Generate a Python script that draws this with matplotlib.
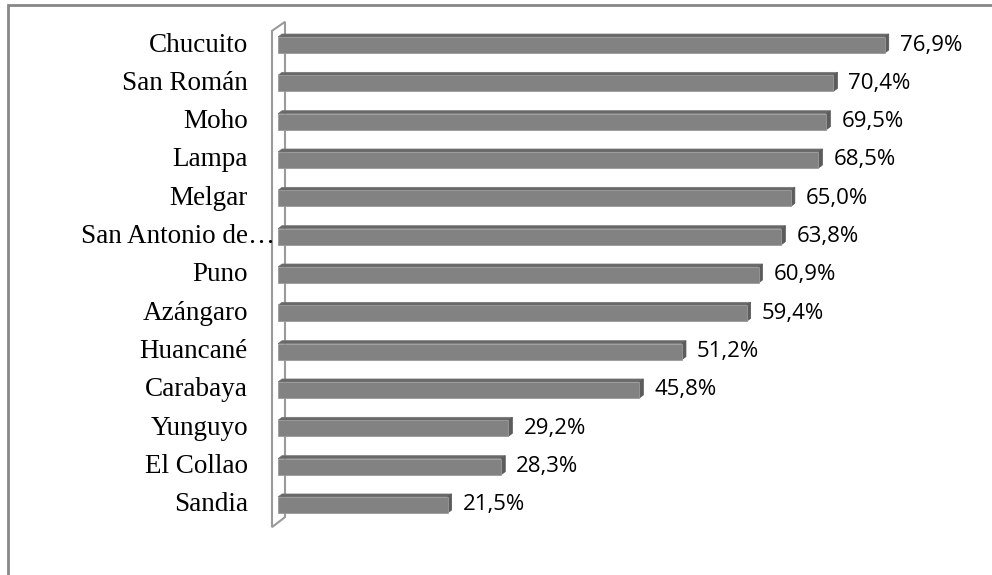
import matplotlib.pyplot as plt
from matplotlib.patches import Polygon, Rectangle

provincias = ["Chucuito", "San Román", "Moho", "Lampa", "Melgar",
              "San Antonio de…", "Puno", "Azángaro", "Huancané",
              "Carabaya", "Yunguyo", "El Collao", "Sandia"]
porcentaje = [76.9, 70.4, 69.5, 68.5, 65.0, 63.8, 60.9, 59.4,
              51.2, 45.8, 29.2, 28.3, 21.5]
etiquetas = [f"{v:.1f}".replace(".", ",") + "%" for v in porcentaje]

W, H, DPI = 992, 575, 100
fig = plt.figure(figsize=(W / DPI, H / DPI), dpi=DPI)

# axes placed so one % = ~7.9 px and one category = ~38.3 px
px_x = 7.89
px_y = 38.33
x0_px = 278
ax = fig.add_axes([x0_px / W, 0, 1 - x0_px / W, 1])
ax.set_xlim(0, (W - x0_px) / px_x)
ax.set_ylim((H - 45) / px_y, -45 / px_y)
ax.axis("off")

# 3D depth of the bars, in data units
dx = 4 / px_x
dy = -3 / px_y
h = 16 / px_y

c_front = "#828282"
c_top = "#686868"
c_side = "#5c5c5c"

for i, v in enumerate(porcentaje):
    y_top = i - h / 2
    y_bot = i + h / 2
    top = Polygon([(0, y_top), (dx, y_top + dy), (v + dx, y_top + dy), (v, y_top)],
                  closed=True, facecolor=c_top, edgecolor="#777777", lw=0.5, zorder=3)
    side = Polygon([(v, y_top), (v + dx, y_top + dy), (v + dx, y_bot + dy), (v, y_bot)],
                   closed=True, facecolor=c_side, edgecolor="#555555", lw=0.5, zorder=3)
    front = Rectangle((0, y_top), v, h, facecolor=c_front, edgecolor="#9a9a9a",
                      lw=0.6, zorder=4)
    ax.add_patch(top)
    ax.add_patch(side)
    ax.add_patch(front)
    ax.annotate(etiquetas[i], (v + dx, i), xytext=(11, 0), textcoords="offset pixels",
                ha="left", va="center", fontsize=16, family="Open Sans",
                color="black", zorder=5)
    # the truncated name runs on up to the wall
    gap = -3 if provincias[i].endswith("…") else -30
    ax.text(gap / px_x, i, provincias[i], ha="right", va="center",
            fontsize=19.5, family="Liberation Serif", color="black", clip_on=False)

# side wall of the 3D plot area
n = len(porcentaje)
wl = -6 / px_x
wr = 7 / px_x
wt = -0.5 + 5 / px_y
wb = n - 0.5 + 3 / px_y
wall = Polygon([(wl, wb), (wl, wt), (wr, wt - 9 / px_y), (wr, wb - 10 / px_y)],
               closed=True, facecolor="none", edgecolor="#9a9a9a", lw=1.5,
               zorder=2, clip_on=False)
ax.add_patch(wall)

# chart border (right and bottom edges fall outside the image)
border = Rectangle((8 / W, -0.1), 1.2, 1.1 - 5 / H, transform=fig.transFigure,
                   facecolor="none", edgecolor="#888888", lw=2)
fig.add_artist(border)

fig.savefig("out.png", dpi=DPI)
